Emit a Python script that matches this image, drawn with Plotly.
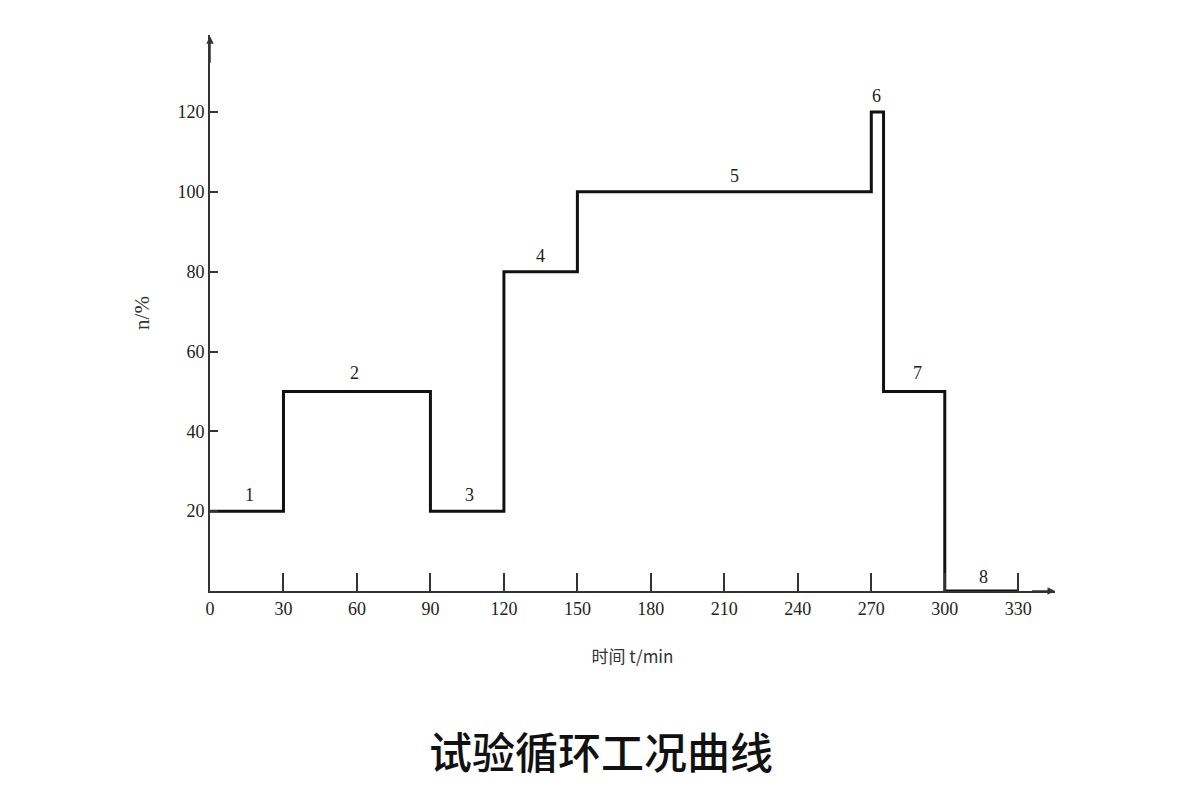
import plotly.graph_objects as go

# Data: step test cycle (time in min, load in %)
time_min = [0, 30, 90, 120, 150, 270, 275, 300, 330]
load_pct = [20, 50, 20, 80, 100, 120, 50, 0, 0]

seg_labels = ["1", "2", "3", "4", "5", "6", "7", "8"]
seg_label_x = [16, 59, 106, 135, 214, 272, 289, 316]
seg_label_y = [24, 54.5, 24, 84, 104, 124, 54.5, 3.5]

x_ticks = [0, 30, 60, 90, 120, 150, 180, 210, 240, 270, 300, 330]
y_ticks = [20, 40, 60, 80, 100, 120]

axis_color = "#333333"
fig = go.Figure()
fig.add_trace(go.Scatter(
    x=time_min, y=load_pct, mode="lines", line_shape="hv",
    line=dict(color="#111111", width=3), showlegend=False, hoverinfo="skip"))

for t, xx, yy in zip(seg_labels, seg_label_x, seg_label_y):
    fig.add_annotation(x=xx, y=yy, text=t, showarrow=False,
                       font=dict(family="Liberation Serif", size=18, color="#222222"),
                       yanchor="middle")

# axis arrows
fig.add_annotation(x=345, y=0, ax=335, ay=0, xref="x", yref="y", axref="x", ayref="y",
                   showarrow=True, arrowhead=2, arrowsize=1, arrowwidth=1.5,
                   arrowcolor=axis_color, text="")
fig.add_annotation(x=0, y=139, ax=0, ay=132, xref="x", yref="y", axref="x", ayref="y",
                   showarrow=True, arrowhead=2, arrowsize=1, arrowwidth=1.5,
                   arrowcolor=axis_color, text="")

# title
fig.add_annotation(text="试验循环工况曲线", xref="paper", yref="paper",
                   x=(601 - 210) / 845, y=-(750 - 591) / 556, showarrow=False,
                   font=dict(family="Noto Sans CJK SC", size=43, color="#111111", weight=500),
                   xanchor="center", yanchor="middle")

fig.update_xaxes(range=[0, 345], tickvals=x_ticks, ticktext=[str(v) for v in x_ticks],
                 showgrid=False, zeroline=False, showline=True, linecolor=axis_color,
                 linewidth=2, ticks="inside", ticklen=18, tickwidth=1.5,
                 tickcolor=axis_color,
                 tickfont=dict(family="Liberation Serif", size=18, color="#222222"),
                 title=dict(text="时间 t/min", standoff=34,
                            font=dict(family="Noto Sans CJK SC", size=17, color="#333333")))
fig.update_yaxes(range=[0, 139.3], tickvals=y_ticks, ticktext=[str(v) for v in y_ticks],
                 showgrid=False, zeroline=False, showline=True, linecolor=axis_color,
                 linewidth=2, ticks="inside", ticklen=8, tickwidth=1.5,
                 tickcolor=axis_color,
                 tickfont=dict(family="Liberation Serif", size=18, color="#222222"),
                 title=dict(text="n/%", standoff=22,
                            font=dict(family="Liberation Serif", size=21, color="#333333")))

fig.update_layout(width=1200, height=800, plot_bgcolor="white", paper_bgcolor="white",
                  margin=dict(l=202, r=153, t=27, b=217))
fig.write_html("out.html")
